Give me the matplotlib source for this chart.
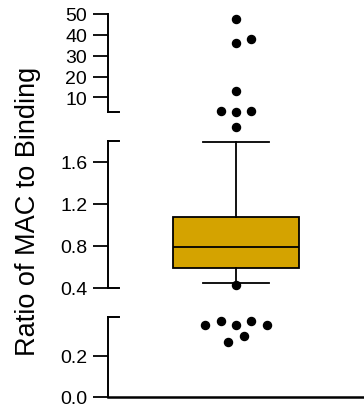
import numpy as np
import matplotlib
matplotlib.use("Agg")
import matplotlib.pyplot as plt
import matplotlib.transforms as mtransforms

plt.rcParams['font.family'] = ['Liberation Sans', 'DejaVu Sans']

# --- data ---
box_q1 = 0.59
box_median = 0.79
box_q3 = 1.08
whisker_low = 0.445
whisker_high = 1.79

outlier_vals = [47.6, 35.9, 38.0, 12.9, 3.6, 2.98, 3.5, 2.39,
                0.431,
                0.351, 0.370, 0.351, 0.370, 0.351, 0.270, 0.299]
outlier_offsets = [0, 0, 1, 0, -1, 0, 1, 0,
                   0,
                   -2, -1, 0, 1, 2, -0.5, 0.5]

yticks = [0.0, 0.2, 0.4, 0.8, 1.2, 1.6, 10, 20, 30, 40, 50]
ytick_labels = ["0.0", "0.2", "0.4", "0.8", "1.2", "1.6", "10", "20", "30", "40", "50"]

# broken axis: value breakpoints -> position (piecewise linear)
seg_vals = [0.0, 0.39, 0.40, 1.80, 3.0, 50.0]
seg_pos = [12, 92, 121, 268, 297, 395]
segments = [(0.0, 0.39), (0.40, 1.80), (3.0, 50.0)]


def fwd(v):
    return np.interp(v, seg_vals, seg_pos)


def inv(p):
    return np.interp(p, seg_pos, seg_vals)


fig = plt.figure(figsize=(3.64, 4.10), dpi=100)
ax = fig.add_axes([108 / 364, 12 / 410, 1 - 108 / 364, 383 / 410])
ax.set_yscale('function', functions=(fwd, inv))
ax.set_ylim(0, 50)
ax.set_xlim(0, 2)

center = 1.0
step = 0.121

stats = [dict(q1=box_q1, med=box_median, q3=box_q3,
              whislo=whisker_low, whishi=whisker_high, fliers=[])]
ax.bxp(stats, positions=[center], widths=0.985, patch_artist=True,
       showfliers=False,
       medianprops=dict(color='black', linewidth=1.3),
       boxprops=dict(facecolor='#D4A300', edgecolor='black', linewidth=1.3),
       whiskerprops=dict(color='black', linewidth=1.3),
       capprops=dict(color='black', linewidth=1.3),
       capwidths=0.508)

xs = [center + o * step for o in outlier_offsets]
ax.plot(xs, outlier_vals, 'o', color='black', markersize=5.8, clip_on=False, zorder=5)

# spines / broken left axis
for s in ['left', 'right', 'top']:
    ax.spines[s].set_visible(False)
ax.spines['bottom'].set_linewidth(1.8)
ax.set_xticks([])

ax.set_yticks(yticks)
ax.set_yticklabels(ytick_labels, fontsize=14)
ax.tick_params(axis='y', length=10.5, width=1.3, pad=4.5, direction='out')

trans = mtransforms.blended_transform_factory(ax.transAxes, ax.transData)
cap_w = 0.042
for lo, hi in segments:
    ax.plot([0, 0], [lo, hi], color='black', lw=1.4, transform=trans, clip_on=False)
    if hi < 50:
        ax.plot([0, cap_w], [hi, hi], color='black', lw=1.4, transform=trans, clip_on=False)
    if lo > 0:
        ax.plot([0, cap_w], [lo, lo], color='black', lw=1.4, transform=trans, clip_on=False)

fig.text(28 / 364, 0.485, "Ratio of MAC to Binding", rotation=90,
         ha='center', va='center', fontsize=19.5)

fig.savefig("out.png", dpi=100)
